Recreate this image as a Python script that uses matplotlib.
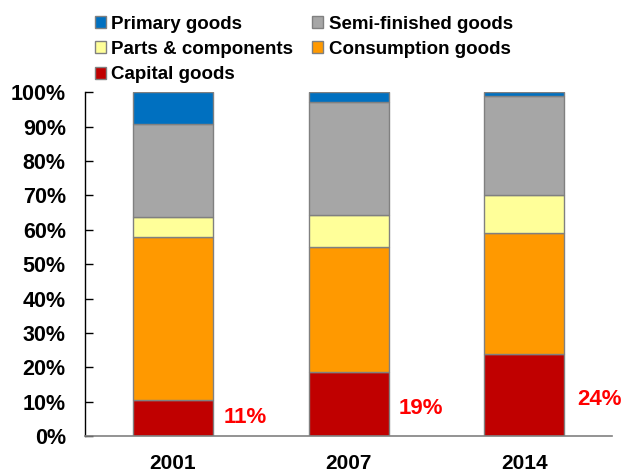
import numpy as np
import matplotlib.pyplot as plt

plt.rcParams['font.family'] = ['Liberation Sans', 'DejaVu Sans']
plt.rcParams['font.weight'] = 'bold'

# share of each product category, bottom to top
years = ['2001', '2007', '2014']
capital = [10.6, 18.7, 23.8]
consumption = [47.3, 36.3, 35.4]
parts = [5.8, 9.2, 10.9]
semi = [27.1, 32.9, 28.7]
primary = [9.2, 2.9, 1.2]

series = [
    ('Capital goods', capital, '#C00000'),
    ('Consumption goods', consumption, '#FF9900'),
    ('Parts & components', parts, '#FFFF99'),
    ('Semi-finished goods', semi, '#A6A6A6'),
    ('Primary goods', primary, '#0070C0'),
]

fig = plt.figure(figsize=(6.22, 4.73), dpi=100)
ax = fig.add_axes([0.137, 0.078, 0.847, 0.727])

x = np.arange(len(years))
bottom = np.zeros(len(years))
bars = {}
for name, vals, col in series:
    bars[name] = ax.bar(x, vals, 0.456, bottom=bottom, color=col,
                        edgecolor='#808080', linewidth=1.0, label=name)
    bottom += np.array(vals)

# capital goods share written beside each bar
label_y = [5.5, 8.0, 10.5]
label_dx = [0.41, 0.41, 0.43]
for i, v in enumerate(capital):
    ax.text(x[i] + label_dx[i], label_y[i], '{:.0f}%'.format(v),
            color='#FF0000', fontsize=16, fontweight='bold', ha='center', va='center')

ax.set_xlim(-0.5, 2.5)
ax.set_ylim(0, 100)
ax.set_yticks(np.arange(0, 101, 10))
ax.set_yticklabels(['{}%'.format(t) for t in range(0, 101, 10)], fontsize=15.5, fontweight='bold')
ax.set_xticks(x)
ax.set_xticklabels(years, fontsize=15, fontweight='bold')
ax.tick_params(axis='y', direction='in', length=6, width=1, pad=14)
ax.tick_params(axis='x', length=0, pad=13)

ax.spines['top'].set_visible(False)
ax.spines['right'].set_visible(False)
ax.spines['bottom'].set_color('#808080')
ax.spines['bottom'].set_linewidth(1.2)
ax.spines['left'].set_linewidth(1.0)

order = ['Primary goods', 'Parts & components', 'Capital goods',
         'Semi-finished goods', 'Consumption goods']
fig.legend([bars[n] for n in order], order, loc='upper left',
           bbox_to_anchor=(0.152, 0.967), ncol=2, frameon=False,
           prop={'size': 13.5, 'weight': 'bold'}, handlelength=0.6,
           handleheight=0.6, handletextpad=0.3, columnspacing=1.0,
           labelspacing=0.45, borderpad=0, borderaxespad=0)

fig.savefig('out.png', dpi=100)
